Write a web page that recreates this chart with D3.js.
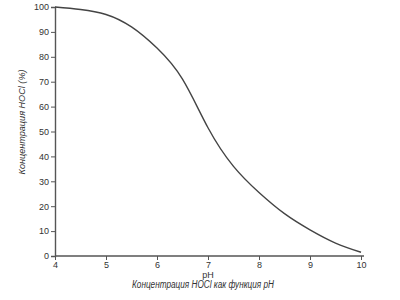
<!DOCTYPE html>
<html>
<head>
<meta charset="utf-8">
<script src="https://cdn.jsdelivr.net/npm/d3@7"></script>
<style>
  body { margin: 0; background: #fff; }
  svg text { font-family: "Liberation Sans Narrow", "Liberation Sans", Arial, sans-serif; fill: #333; }
</style>
</head>
<body>
<svg id="chart"></svg>
<script>
// pH values and HOCl concentration (%)
var phValues = [4.0, 4.5, 5.0, 5.5, 6.0, 6.5, 7.0, 7.5, 8.0, 8.5, 9.0, 9.5, 10.0];
var hoclPct  = [100, 99, 97, 92, 83.5, 71, 51.5, 36, 25.5, 17, 10.5, 5.2, 1.5];
var xTicks = [4, 5, 6, 7, 8, 9, 10];
var yTicks = [0, 10, 20, 30, 40, 50, 60, 70, 80, 90, 100];

var w = 400, h = 300;
var padL = 55, padR = 361, padT = 7, padB = 256;

var svg = d3.select("#chart").attr("width", w).attr("height", h);

var x = d3.scaleLinear().domain([4, 10]).range([padL, padR]);
var y = d3.scaleLinear().domain([0, 100]).range([padB, padT]);

var xAxis = svg.append("g")
  .attr("transform", "translate(0," + padB + ")")
  .call(d3.axisBottom(x).tickValues(xTicks).tickSize(4).tickPadding(2).tickFormat(d3.format("d")));
xAxis.select(".domain").attr("d", "M" + padL + ",0H" + (padR + 3));

var yAxis = svg.append("g")
  .attr("transform", "translate(" + padL + ",0)")
  .call(d3.axisLeft(y).tickValues(yTicks).tickSize(4).tickPadding(2));

svg.selectAll(".domain").attr("stroke", "#555").attr("stroke-width", 1.4);
svg.selectAll(".tick line").attr("stroke", "#555").attr("stroke-width", 1);
svg.selectAll(".tick text").attr("font-size", 9).attr("fill", "#333")
  .style("font-family", "'Liberation Sans Narrow', 'Liberation Sans', sans-serif");

var pts = phValues.map(function(d, i){ return [d, hoclPct[i]]; });
var line = d3.line()
  .x(function(d){ return x(d[0]); })
  .y(function(d){ return y(d[1]); })
  .curve(d3.curveNatural);

svg.append("path")
  .datum(pts)
  .attr("d", line)
  .attr("fill", "none")
  .attr("stroke", "#444")
  .attr("stroke-width", 1.4);

svg.append("text")
  .attr("transform", "translate(25,122) rotate(-90)")
  .attr("text-anchor", "middle")
  .attr("font-size", 9)
  .attr("font-style", "italic")
  .attr("textLength", 105)
  .attr("lengthAdjust", "spacingAndGlyphs")
  .text("Концентрация HOCl (%)");

svg.append("text")
  .attr("x", x(7)).attr("y", 278)
  .attr("text-anchor", "middle")
  .attr("font-size", 9)
  .text("pH");

svg.append("text")
  .attr("x", 203).attr("y", 288)
  .attr("text-anchor", "middle")
  .attr("font-size", 10)
  .attr("font-style", "italic")
  .attr("textLength", 142)
  .attr("lengthAdjust", "spacingAndGlyphs")
  .text("Концентрация HOCl как функция pH");
</script>
</body>
</html>
